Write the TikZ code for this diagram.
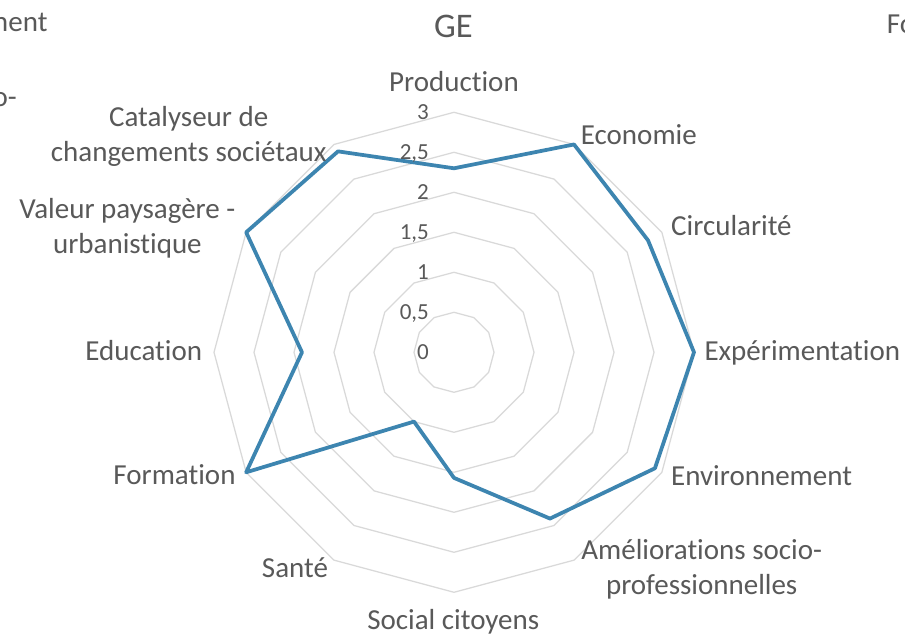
\documentclass[tikz,border=0pt]{standalone}
\usepackage{fontspec}
\setmainfont{Carlito}[Ligatures={NoCommon,NoContextual}]
\usetikzlibrary{calc}
\definecolor{lab}{HTML}{595959}
\definecolor{gridc}{HTML}{D9D9D9}
\definecolor{ser}{RGB}{61,133,176}
\begin{document}
\begin{tikzpicture}[x=1bp,y=1bp,
  lbl/.style={font=\fontsize{29bp}{35bp}\selectfont, text=lab, inner sep=0pt},
  ttl/.style={font=\fontsize{34.5bp}{40bp}\selectfont, text=lab, inner sep=0pt},
  ticklbl/.style={font=\fontsize{23bp}{27bp}\selectfont, text=lab, inner sep=0pt, anchor=base east},
  gridring/.style={draw=gridc, line width=1.25bp},
  series/.style={draw=ser, line width=3.75bp, line join=round}]
\useasboundingbox (0,0) rectangle (905,635);
\clip (0,0) rectangle (905,635);
\fill[white] (0,0) rectangle (905,635);
% grid
\begin{scope}[shift={(454,282.7)}]
  \foreach \k in {1,...,6}{
    \draw[gridring] (90:40*\k) \foreach \i in {1,...,11}{ -- (90-30*\i:40*\k)} -- cycle;
  }
  % data points
  \coordinate (p0) at (90:80*2.3);
  \coordinate (p1) at (60:80*3);
  \coordinate (p2) at (30:80*2.8);
  \coordinate (p3) at (0:80*3);
  \coordinate (p4) at (-30:80*2.9);
  \coordinate (p5) at (-60:80*2.4);
  \coordinate (p6) at (-90:80*1.57);
  \coordinate (p7) at (-120:80*1.0);
  \coordinate (p8) at (-150:80*3);
  \coordinate (p9) at (180:80*1.9);
  \coordinate (p10) at (150:80*3);
  \coordinate (p11) at (120:80*2.9);
  \draw[series] (p0) -- (p1) -- (p2) -- (p3) -- (p4) -- (p5) -- (p6) -- (p7) -- (p8) -- (p9) -- (p10) -- (p11) -- cycle;
\end{scope}
% tick labels
\node[ticklbl] (t0) at (429,275.2) {0};
\node[ticklbl] (t1) at (429,315.2) {0,5};
\node[ticklbl] (t2) at (429,355.2) {1};
\node[ticklbl] (t3) at (429,395.2) {1,5};
\node[ticklbl] (t4) at (429,435.2) {2};
\node[ticklbl] (t5) at (429,475.2) {2,5};
\node[ticklbl] (t6) at (429,515.2) {3};
% title
\node[ttl, anchor=base] (title) at (453.5,597.7) {GE};
% category labels
\node[lbl, anchor=base] (production) at (454,543) {Production};
\node[lbl, anchor=base west] (economie) at (580.7,490) {Economie};
\node[lbl, anchor=base west] (circularite) at (671,399) {Circularité};
\node[lbl, anchor=base west] (experimentation) at (704.3,274) {Expérimentation};
\node[lbl, anchor=base west] (environnement) at (671,149) {Environnement};
\node[lbl, anchor=base] (ameliorations) at (701.7,75) {\begin{tabular}[t]{@{}c@{}}Améliorations socio-\\professionnelles\end{tabular}};
\node[lbl, anchor=base] (social) at (453.3,5.7) {Social citoyens};
\node[lbl, anchor=base] (sante) at (295,57.7) {Santé};
\node[lbl, anchor=base east] (formation) at (235.7,150) {Formation};
\node[lbl, anchor=base east] (education) at (202.3,274.3) {Education};
\node[lbl, anchor=base] (valeur) at (127.4,416.7) {\begin{tabular}[t]{@{}c@{}}Valeur paysagère -\\urbanistique\end{tabular}};
\node[lbl, anchor=base] (catalyseur) at (188.7,508.3) {\begin{tabular}[t]{@{}c@{}}Catalyseur de\\changements sociétaux\end{tabular}};
% cropped fragments of neighbouring charts
\node[lbl, anchor=base east] (fragA) at (47.7,603.3) {ment};
\node[lbl, anchor=base east] (fragB) at (17,528) {o-};
\node[lbl, anchor=base west] (fragC) at (886.7,601.7) {Fo};
\end{tikzpicture}
\end{document}
